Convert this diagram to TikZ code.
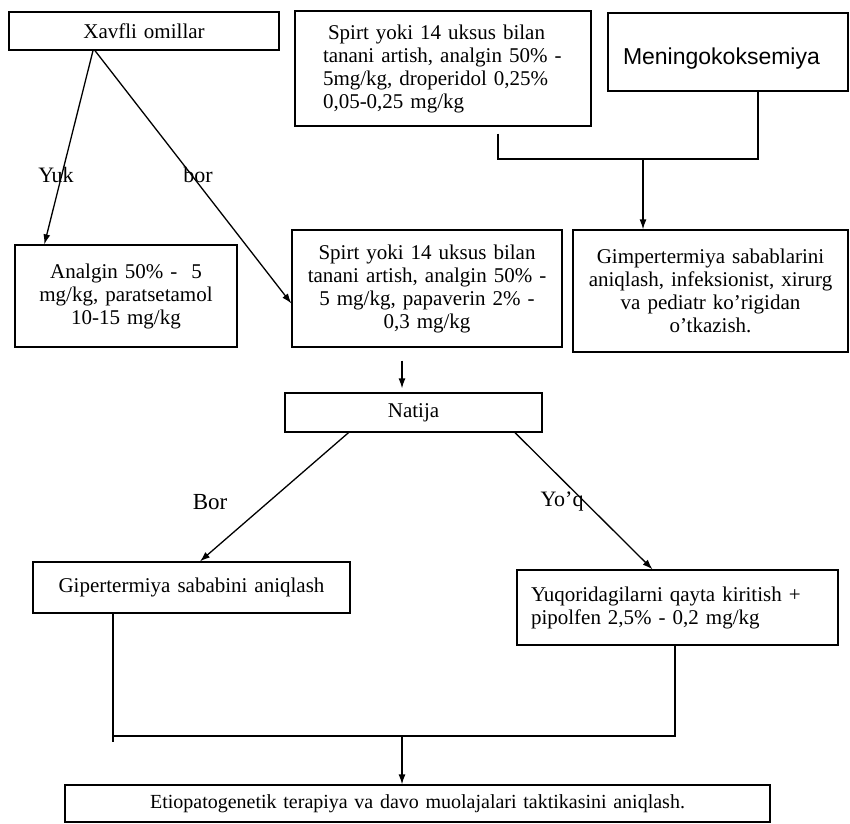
\documentclass[tikz,border=0pt]{standalone}
\usepackage{fontspec}
\setmainfont{Liberation Serif}
\newfontfamily\arialf{Liberation Sans}
\usetikzlibrary{arrows.meta,calc}
\begin{document}
\begin{tikzpicture}[x=1pt,y=-1pt,
  box/.style={draw, line width=1.3pt, inner xsep=0pt, inner ysep=0pt, anchor=center,
    font=\fontsize{21}{23}\selectfont, align=center},
  lbl/.style={font=\fontsize{22}{24}\selectfont, inner sep=0pt},
  ln/.style={line width=1.3pt},
  arr/.style={line width=1.3pt, -{Latex[length=10pt,width=7pt]}}]
\useasboundingbox (0,0) rectangle (850,823);

\node[box, minimum width=270pt, text width=270pt, minimum height=38pt] (xav) at (144,31) {Xavfli omillar};
\node[box, minimum width=296pt, text width=296pt, minimum height=115pt, align=left] (st) at (443,68.5)
  {\hspace*{33pt}Spirt yoki 14 uksus bilan\\\hspace*{28pt}tanani artish, analgin 50\% -\\\hspace*{28pt}5mg/kg, droperidol 0,25\%\\\hspace*{28pt}0,05-0,25 mg/kg};
\node[box, minimum width=240pt, text width=240pt, minimum height=78pt, align=left,
  text height=24pt, text depth=0pt, font=\arialf\fontsize{23}{25}\selectfont] (mk) at (728,52)
  {\hspace*{15pt}Meningokoksemiya};
\node[box, minimum width=222pt, text width=222pt, minimum height=102pt] (an) at (126,296)
  {Analgin 50\% - \ 5\\mg/kg, paratsetamol\\10-15 mg/kg};
\node[box, minimum width=270pt, text width=270pt, minimum height=117pt] (sm) at (427,288.5)
  {Spirt yoki 14 uksus bilan\\tanani artish, analgin 50\% -\\5 mg/kg, papaverin 2\% -\\0,3 mg/kg};
\node[box, minimum width=275pt, text width=275pt, minimum height=122pt] (gim) at (710.5,291)
  {Gimpertermiya sabablarini\\aniqlash, infeksionist, xirurg\\va pediatr ko’rigidan\\o’tkazish.};
\node[box, minimum width=257pt, text width=257pt, minimum height=39pt] (nat) at (413.5,412.5) {Natija};
\node[box, minimum width=317pt, text width=317pt, minimum height=51pt] (gip) at (191.5,587.5) {Gipertermiya sababini aniqlash};
\node[box, minimum width=321pt, text width=321pt, minimum height=75pt, align=left] (yuq) at (677.5,607.5)
  {\hspace*{14pt}Yuqoridagilarni qayta kiritish +\\\hspace*{14pt}pipolfen 2,5\% - 0,2 mg/kg};
\node[box, minimum width=705pt, text width=705pt, minimum height=37pt, font=\fontsize{20}{22}\selectfont] (eti) at (417.5,803.5)
  {Etiopatogenetik terapiya va davo muolajalari taktikasini aniqlash.};

% labels
\node[lbl] (yuk) at (56,175) {Yuk};
\node[lbl] (bor1) at (198,175) {bor};
\node[lbl, font=\fontsize{23}{25}\selectfont] (bor2) at (210,502) {Bor};
\node[lbl] (yoq) at (562,502) {Yo’q};

% top-left arrows
\draw[arr] ([xshift=-51pt]xav.south) -- ([xshift=30pt]an.north west);
\draw[arr] ([xshift=-49pt]xav.south) -- ([yshift=-15pt]sm.west);

% top-right join
\coordinate (tl) at (498,159);
\coordinate (tr) at (758,159);
\coordinate (tm) at (643,159);
\draw[ln] ([yshift=-7pt]st.south -| tl) -- (tl) -- (tr) -- (mk.south -| tr);
\draw[arr] (tm) -- (gim.north -| tm);

% to Natija
\draw[arr] ([xshift=-25pt,yshift=-13pt]sm.south) -- ([xshift=-11.5pt,yshift=4pt]nat.north);

% from Natija
\draw[arr] ([xshift=-65pt]nat.south) -- ([xshift=8.5pt]gip.north);
\draw[arr] ([xshift=101.5pt]nat.south) -- ([xshift=-25pt]yuq.north);

% bottom join
\coordinate (bl) at (113,736);
\coordinate (br) at (675,736);
\coordinate (bm) at (402,736);
\draw[ln] (gip.south -| bl) -- ([yshift=-6pt]bl);
\draw[ln] (bl) -- (br) -- (yuq.south -| br);
\draw[arr] (bm) -- (eti.north -| bm);
\end{tikzpicture}
\end{document}
